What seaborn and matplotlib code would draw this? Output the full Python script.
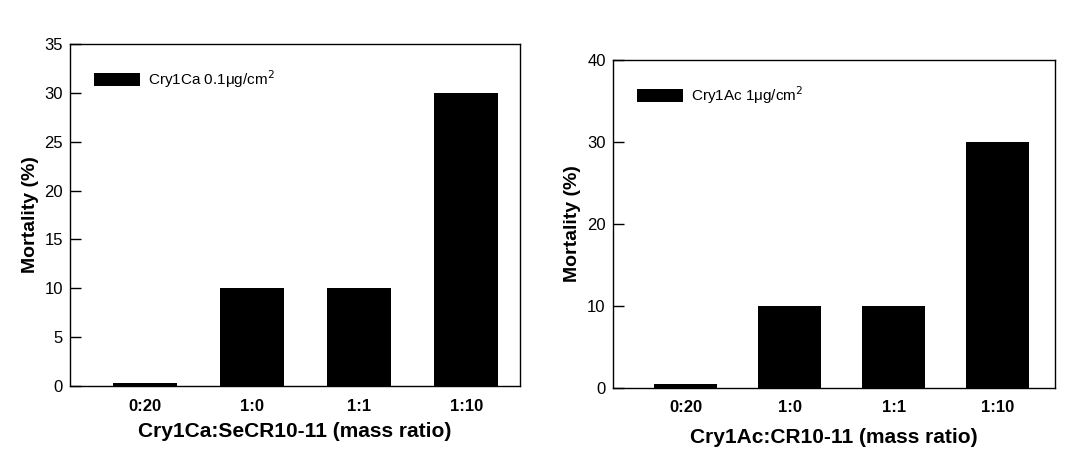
import matplotlib
matplotlib.use("Agg")
import matplotlib.pyplot as plt
import seaborn as sns
import pandas as pd

ratios = ["0:20", "1:0", "1:1", "1:10"]
mort_ca = [0.3, 10, 10, 30]
mort_ac = [0.5, 10, 10, 30]

plt.rcParams["font.family"] = ["Liberation Sans", "DejaVu Sans"]

fig = plt.figure(figsize=(10.92, 4.72), dpi=100)
ax1 = fig.add_axes([0.0641, 0.182, 0.412, 0.725])
ax2 = fig.add_axes([0.561, 0.178, 0.405, 0.695])

panels = [
    (ax1, mort_ca, "Cry1Ca 0.1\u03bcg/cm$^2$", "Cry1Ca:SeCR10-11 (mass ratio)",
     (0, 35), range(0, 36, 5), (-0.7, 3.5), 6),
    (ax2, mort_ac, "Cry1Ac 1\u03bcg/cm$^{2}$", "Cry1Ac:CR10-11 (mass ratio)",
     (0, 40), range(0, 41, 10), (-0.7, 3.55), 9),
]

for ax, vals, lab, xlab, ylim, yt, xlim, pad in panels:
    df = pd.DataFrame({"ratio": ratios, "mortality": vals})
    sns.barplot(data=df, x="ratio", y="mortality", color="black",
                width=0.6, ax=ax, label=lab, saturation=1)
    ax.set_ylim(*ylim)
    ax.set_yticks(list(yt))
    ax.set_xlim(*xlim)
    ax.set_ylabel("Mortality (%)", fontsize=14, fontweight="bold")
    ax.set_xlabel(xlab, fontsize=15, fontweight="bold", labelpad=pad)
    ax.tick_params(axis="x", length=0, labelsize=12, pad=9)
    ax.tick_params(axis="y", direction="in", length=8, width=1,
                   color="black", labelsize=12, pad=5)
    for t in ax.get_xticklabels():
        t.set_fontweight("bold")
    for s in ax.spines.values():
        s.set_linewidth(1.0)
        s.set_color("black")
    ax.legend(loc="upper left", frameon=False, fontsize=11,
              handlelength=3.0, handleheight=0.9, handletextpad=0.5,
              borderaxespad=1.2)

fig.savefig("out.png", dpi=100)
